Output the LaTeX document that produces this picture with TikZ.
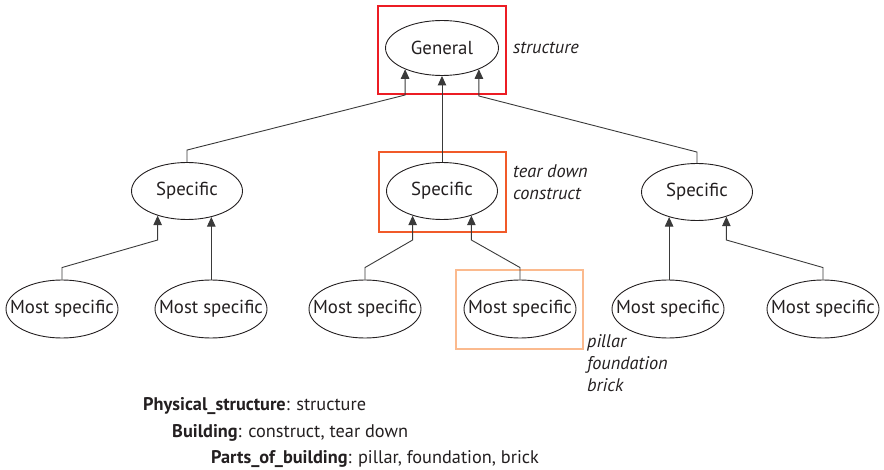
\documentclass[tikz,border=0pt]{standalone}
\usepackage{fontspec}
\setmainfont{PT Sans}
\usetikzlibrary{shapes.geometric,arrows.meta}
\definecolor{ink}{HTML}{231F20}
\definecolor{wire}{HTML}{3A3A3A}
\definecolor{boxred}{HTML}{EC1C24}
\definecolor{boxorange}{HTML}{F15A29}
\definecolor{boxpeach}{HTML}{FBBA8E}
\newcommand{\zw}[1]{\makebox[0pt]{#1}}
\tikzset{
  concept/.style={ellipse, draw=ink, line width=0.9pt, inner sep=0pt,
    text=ink, font=\fontsize{18.8}{21}\selectfont},
  general/.style={concept, minimum width=113pt, minimum height=55pt},
  specific/.style={concept, minimum width=111pt, minimum height=57pt},
  leaf/.style={concept, minimum width=112pt, minimum height=58pt},
  link/.style={draw=wire, line width=0.9pt},
  arr/.style={link, -{Triangle[width=8.5pt,length=9.5pt]}},
  frame/.style={draw, line width=1.8pt},
  note/.style={anchor=west, text=ink, inner sep=0pt,
    font=\fontsize{18.3}{22}\selectfont\itshape, align=left},
  legend/.style={anchor=west, text=ink, inner sep=0pt,
    font=\fontsize{18.3}{20}\selectfont}
}
\begin{document}
\begin{tikzpicture}[x=1pt, y=-1pt]
\useasboundingbox (0,0) rectangle (884,470);

% highlight frames
\draw[frame, boxred] (378,6) rectangle (506,94);
\draw[frame, boxorange] (379,152) rectangle (506,232);
\draw[frame, boxpeach] (456,270) rectangle (583,349);

% concept nodes
\node[general] (gen) at (442,48) {\zw{General}};
\node[specific] (sp1) at (187,191) {\zw{Specific}};
\node[specific] (sp2) at (442,191) {\zw{Specific}};
\node[specific] (sp3) at (697,192) {\zw{Specific}};
\node[leaf] (ms1) at (62,309) {\zw{Most specific}};
\node[leaf] (ms2) at (211,309) {\zw{Most specific}};
\node[leaf] (ms3) at (365,309) {\zw{Most specific}};
\node[leaf] (ms4) at (520,309) {\zw{Most specific}};
\node[leaf] (ms5) at (668,309) {\zw{Most specific}};
\node[leaf] (ms6) at (823,309) {\zw{Most specific}};

% level 1 -> general
\draw[arr] (sp1.north) -- ++(0,-12) -- (gen.210.5 |- 0,95) -- (gen.210.5);
\draw[arr] (sp2.north) -- (gen.south);
\draw[arr] (sp3.north) -- ++(0,-11) -- (gen.330.7 |- 0,96) -- (gen.330.7);

% level 2 -> level 1
\draw[arr] (ms1.north) -- ++(0,-12) -- (sp1.220 |- 0,240) -- (sp1.220);
\draw[arr] (sp1.313 |- ms2.north) -- (sp1.313);
\draw[arr] (ms3.north) -- ++(0,-12) -- (sp2.220 |- 0,240) -- (sp2.220);
\draw[arr] (ms4.north) -- ++(0,-12) -- (sp2.320 |- 0,240) -- (sp2.320);
\draw[arr] (sp3.222.7 |- ms5.north) -- (sp3.222.7);
\draw[arr] (ms6.north) -- ++(0,-12) -- (sp3.320 |- 0,240) -- (sp3.320);

% annotations
\node[note] (n1) at (513,48) {structure};
\node[note, anchor=north west] (n2) at (513,164) {tear down\\construct};
\node[note, anchor=north west] (n3) at (587,334) {pillar\\foundation\\brick};

% legend
\node[legend] (l1) at (143,406) {\textbf{Physical\_structure}: structure};
\node[legend] (l2) at (172,433) {\textbf{Building}: construct, tear down};
\node[legend] (l3) at (211,459) {\textbf{Parts\_of\_building}: pillar, foundation, brick};
\end{tikzpicture}
\end{document}
